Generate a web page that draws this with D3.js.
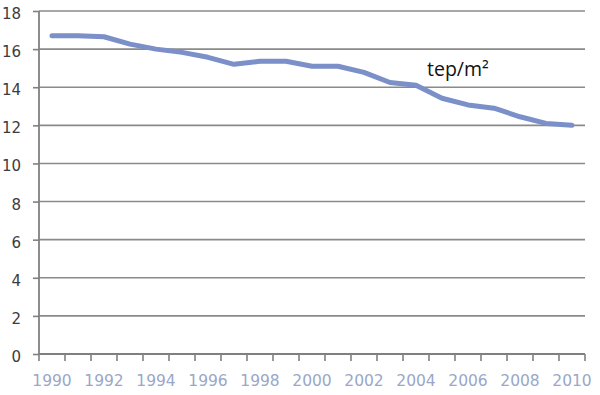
<!DOCTYPE html>
<html><head><meta charset="utf-8">
<script src="https://cdn.jsdelivr.net/npm/d3@7/dist/d3.min.js"></script>
<style>body{margin:0;background:#fff}svg{display:block}</style>
</head><body><svg id="c" width="600" height="395"></svg>
<script>
const years = [1990,1991,1992,1993,1994,1995,1996,1997,1998,1999,2000,2001,2002,2003,2004,2005,2006,2007,2008,2009,2010];
const values = [16.7,16.7,16.65,16.26,16.0,15.83,15.57,15.2,15.36,15.36,15.1,15.1,14.78,14.25,14.1,13.42,13.07,12.9,12.45,12.1,12.0];
const yTicks = [0,2,4,6,8,10,12,14,16,18];
const xTickLabels = [1990,1992,1994,1996,1998,2000,2002,2004,2006,2008,2010];
const unitLabel = "tep/m²";

const svg = d3.select("#c");
const L = 39, R = 585, T = 11, B = 354;
const x = d3.scaleBand().domain(years).range([L, R]).padding(0);
const y = d3.scaleLinear().domain([0, 18]).range([B, T]);

// gridlines
svg.append("g").selectAll("line").data(yTicks.filter(d => d > 0)).join("line")
  .attr("x1", L).attr("x2", R).attr("y1", d => y(d)).attr("y2", d => y(d))
  .attr("stroke", "#8a8a8a").attr("stroke-width", 1.6);

// y axis
const yAxis = svg.append("g").attr("transform", `translate(${L},0)`)
  .call(d3.axisLeft(y).tickValues(yTicks).tickSize(6).tickPadding(12).tickFormat(d3.format("d")));
yAxis.attr("font-size", null).attr("font-family", null);
yAxis.select(".domain").attr("stroke", "#808080").attr("stroke-width", 1.8).attr("d", `M0,${B}V${T}`);
yAxis.selectAll(".tick line").attr("stroke", "#808080").attr("stroke-width", 1.6);
yAxis.selectAll(".tick text").attr("fill", "#3c3c3c")
  .style("font-family", "'DejaVu Sans', Verdana, sans-serif").style("font-size", "15px")
  .attr("dy", "0.5em").attr("x", -18);

// x axis
const xAxis = svg.append("g").attr("transform", `translate(0,${B})`)
  .call(d3.axisBottom(x).tickValues(xTickLabels).tickSize(0).tickPadding(20));
xAxis.attr("font-size", null).attr("font-family", null);
xAxis.select(".domain").attr("stroke", "#808080").attr("stroke-width", 1.8).attr("d", `M${L},0H${R}`);
xAxis.selectAll(".tick text").attr("fill", "#9aa7c8")
  .style("font-family", "'DejaVu Sans', Verdana, sans-serif").style("font-size", "15.5px")
  .attr("dy", "0.35em").attr("y", 27);
// ticks between categories
const boundaries = years.map(d => x(d)).concat([x(years[years.length-1]) + x.bandwidth()]);
svg.append("g").selectAll("line").data(boundaries).join("line")
  .attr("x1", d => d).attr("x2", d => d).attr("y1", B).attr("y2", B + 7)
  .attr("stroke", "#808080").attr("stroke-width", 1.6);

// line
const line = d3.line().x((d, i) => x(years[i]) + x.bandwidth() / 2).y(d => y(d));
svg.append("path").datum(values).attr("d", line).attr("fill", "none")
  .attr("stroke", "#7b8fc8").attr("stroke-width", 5).attr("stroke-linejoin", "round").attr("stroke-linecap", "round");

// unit label
svg.append("text").attr("x", 427).attr("y", 76).text(unitLabel)
  .style("font-family", "'Open Sans', sans-serif").style("font-size", "19.5px").attr("fill", "#111");
</script></body></html>
